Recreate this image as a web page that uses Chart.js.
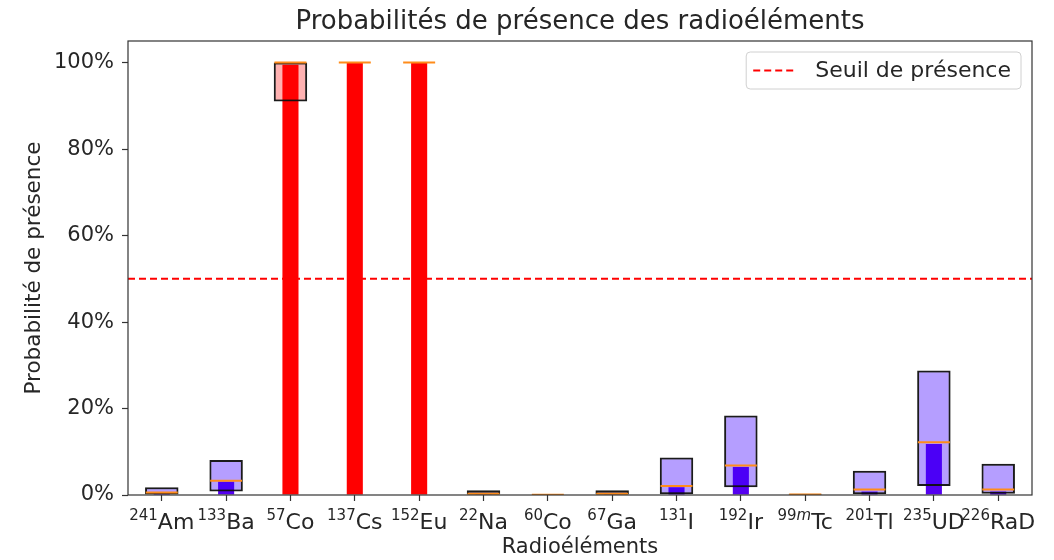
<!DOCTYPE html>
<html>
<head>
<meta charset="utf-8">
<script src="https://cdn.jsdelivr.net/npm/chart.js@4.4.1/dist/chart.umd.min.js"></script>
<style>
  html, body { margin: 0; padding: 0; background: #fff; }
  #wrap { width: 1054px; height: 560px; }
</style>
</head>
<body>
<div id="wrap"><canvas id="chart" width="1054" height="560"></canvas></div>
<script>
// radioéléments (nombre de masse + symbole)
const masses = ['241', '133', '57', '137', '152', '22', '60', '67', '131', '192', '99m', '201', '235', '226'];
const symboles = ['Am', 'Ba', 'Co', 'Cs', 'Eu', 'Na', 'Co', 'Ga', 'I', 'Ir', 'Tc', 'Tl', 'UD', 'RaD'];

// probabilité estimée
const probabilites = [0.004, 0.031, 0.995, 1.0, 1.0, 0.002, 0.0005, 0.002, 0.018, 0.065, 0.001, 0.008, 0.118, 0.008];
// dispersion (bas / haut de la boîte) et médiane
const boiteBas = [0.001, 0.008, 0.91, 1.0, 1.0, 0.0, 0.0, 0.0, 0.002, 0.018, 0.0, 0.002, 0.021, 0.003];
const boiteHaut = [0.018, 0.081, 1.0, 1.0, 1.0, 0.011, 0.001, 0.011, 0.087, 0.184, 0.003, 0.056, 0.288, 0.072];
const medianes = [0.006, 0.033, 1.0, 1.0, 1.0, 0.003, 0.0005, 0.003, 0.021, 0.068, 0.001, 0.013, 0.122, 0.013];

const seuil = 0.5;
const yTicks = [0, 0.2, 0.4, 0.6, 0.8, 1.0];
const yMax = 1.05;
const xMin = -0.525, xMax = symboles.length - 1 + 0.525;

const ROUGE = 'rgb(255,0,0)';
const BLEU = 'rgb(85,0,240)';
const FONT = "'DejaVu Sans', sans-serif";
const TXT = '#262626';

const present = probabilites.map(p => p >= seuil);

// titre, cadre, étiquettes x et légende dessinés à la main
const decor = {
  id: 'decor',
  afterDraw(chart) {
    const { ctx, chartArea: a } = chart;
    const xs = chart.scales.x;
    ctx.save();

    // cadre des axes
    ctx.strokeStyle = '#333';
    ctx.lineWidth = 1.2;
    ctx.strokeRect(a.left, a.top, a.right - a.left, a.bottom - a.top);

    // titre
    ctx.fillStyle = TXT;
    ctx.font = '26px ' + FONT;
    ctx.textAlign = 'center';
    ctx.textBaseline = 'alphabetic';
    ctx.fillText('Probabilités de présence des radioéléments', (a.left + a.right) / 2, 29);

    // étiquettes avec exposant
    ctx.textAlign = 'left';
    symboles.forEach((s, i) => {
      const m = masses[i];
      const num = m.replace('m', '');
      const meta = m.endsWith('m');
      ctx.font = '15px ' + FONT;
      let wSup = ctx.measureText(num).width;
      let wM = 0;
      if (meta) { ctx.font = 'italic 15px ' + FONT; wM = ctx.measureText('m').width; }
      ctx.font = '22px ' + FONT;
      const wSym = ctx.measureText(s).width;
      const total = wSup + wM + wSym;
      let x = xs.getPixelForValue(i) - total / 2;
      ctx.font = '15px ' + FONT;
      ctx.fillText(num, x, 520);
      x += wSup;
      if (meta) { ctx.font = 'italic 15px ' + FONT; ctx.fillText('m', x, 520); x += wM; }
      ctx.font = '22px ' + FONT;
      ctx.fillText(s, x, 529);
    });

    // légende
    ctx.font = '22px ' + FONT;
    const label = 'Seuil de présence';
    const tw = ctx.measureText(label).width;
    const bw = 8 + 44 + 17 + tw + 10, bh = 37;
    const bx = a.right - 11 - bw, by = a.top + 11;
    ctx.fillStyle = 'rgba(255,255,255,0.85)';
    ctx.strokeStyle = '#d0d0d0';
    ctx.lineWidth = 1;
    ctx.beginPath();
    ctx.roundRect(bx, by, bw, bh, 4);
    ctx.fill();
    ctx.stroke();
    const ly = by + bh / 2;
    ctx.strokeStyle = ROUGE;
    ctx.lineWidth = 2;
    ctx.setLineDash([7, 4]);
    ctx.beginPath();
    ctx.moveTo(bx + 7, ly);
    ctx.lineTo(bx + 51, ly);
    ctx.stroke();
    ctx.setLineDash([]);
    ctx.fillStyle = TXT;
    ctx.textBaseline = 'middle';
    ctx.fillText(label, bx + 69, ly + 1);

    ctx.restore();
  }
};

const pts = arr => arr.map((v, i) => ({ x: i, y: v }));

new Chart(document.getElementById('chart'), {
  type: 'bar',
  data: {
    datasets: [
      {
        type: 'line',
        label: 'Seuil de présence',
        data: [{ x: xMin, y: seuil }, { x: xMax, y: seuil }],
        borderColor: ROUGE,
        borderWidth: 2,
        borderDash: [7, 4],
        pointRadius: 0,
        order: 0
      },
      {
        type: 'scatter',
        label: 'Médiane',
        data: pts(medianes),
        pointStyle: 'line',
        pointRadius: 16,
        borderColor: '#ff8c1a',
        borderWidth: 2,
        order: 1
      },
      {
        label: 'Dispersion',
        data: boiteBas.map((b, i) => ({ x: i, y: [b, boiteHaut[i]] })),
        backgroundColor: present.map(p => p ? 'rgba(255,0,0,0.3)' : 'rgba(60,0,255,0.38)'),
        borderColor: 'rgba(15,15,15,0.95)',
        borderWidth: 2,
        borderSkipped: false,
        grouped: false,
        categoryPercentage: 1,
        barPercentage: 0.52,
        order: 2
      },
      {
        label: 'Probabilité',
        data: pts(probabilites),
        backgroundColor: present.map(p => p ? ROUGE : BLEU),
        borderWidth: 0,
        grouped: false,
        categoryPercentage: 1,
        barPercentage: 0.25,
        order: 3
      }
    ]
  },
  options: {
    responsive: false,
    animation: false,
    events: [],
    layout: { padding: { top: 41, right: 22, left: 0, bottom: 0 } },
    plugins: {
      legend: { display: false },
      tooltip: { enabled: false },
      title: { display: false }
    },
    scales: {
      x: {
        type: 'linear',
        min: xMin,
        max: xMax,
        offset: false,
        afterBuildTicks: s => { s.ticks = symboles.map((_, i) => ({ value: i })); },
        afterFit: s => { s.height = 65; },
        grid: { display: true, drawOnChartArea: false, offset: false, tickLength: 6, color: '#333', tickWidth: 1.2 },
        border: { display: false },
        ticks: { callback: () => '', autoSkip: false, maxRotation: 0 },
        title: { display: true, text: 'Radioéléments', color: TXT, font: { family: FONT, size: 21 }, padding: { top: 0, bottom: 0 } }
      },
      y: {
        min: 0,
        max: yMax,
        afterBuildTicks: s => { s.ticks = yTicks.map(v => ({ value: v })); },
        afterFit: s => { s.width = 128; },
        grid: { display: true, drawOnChartArea: false, tickLength: 6, color: '#333', tickWidth: 1.2 },
        border: { display: false },
        ticks: {
          color: TXT,
          padding: 8,
          font: { family: FONT, size: 21 },
          callback: v => Math.round(v * 100) + '%'
        },
        title: { display: true, text: 'Probabilité de présence', color: TXT, font: { family: FONT, size: 21.5 }, padding: { top: 22, bottom: 0 } }
      }
    }
  },
  plugins: [decor]
});
</script>
</body>
</html>
